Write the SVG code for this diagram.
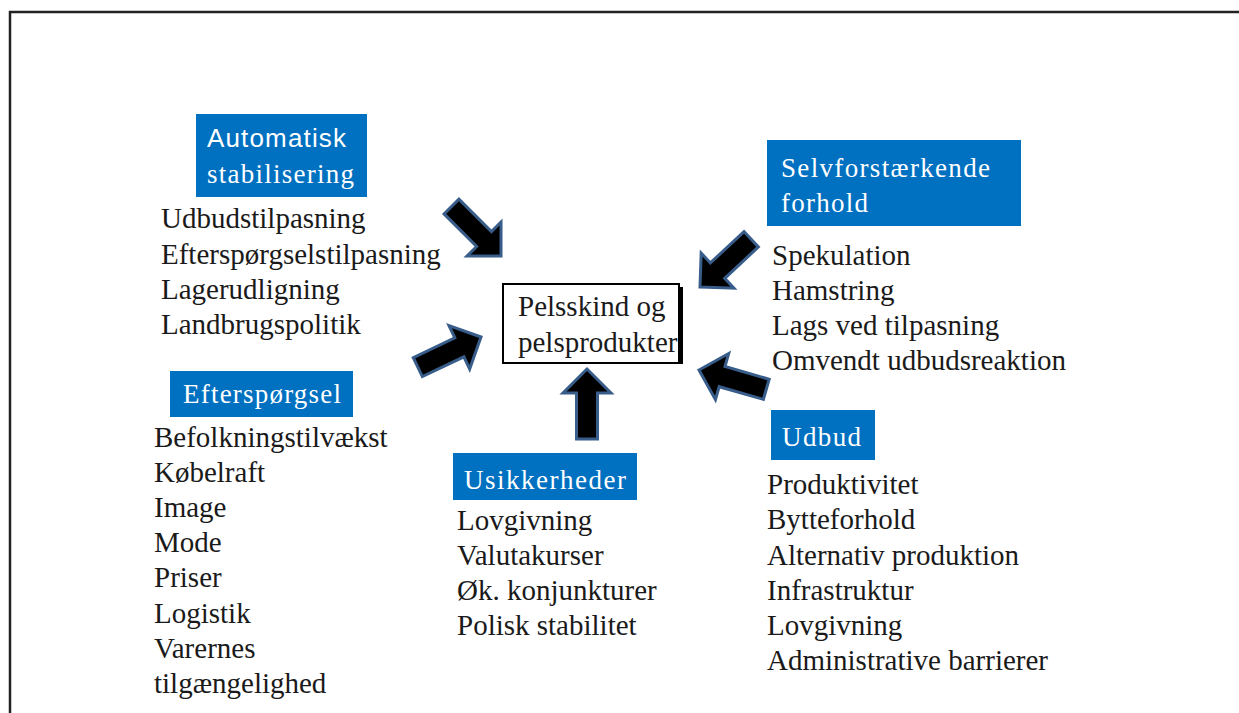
<svg xmlns="http://www.w3.org/2000/svg" width="1239" height="713" viewBox="0 0 1239 713">
  <style>
    .frame { fill: none; stroke: #222; stroke-width: 2.5; }
    .hdr { fill: #0070C0; }
    .htxt { font-family: "Liberation Serif", "Times New Roman", serif; font-size: 27px; fill: #fff; }
    .hsans { font-family: "Liberation Sans", Arial, sans-serif; font-size: 26px; fill: #fff; }
    .body { font-family: "Liberation Serif", "Times New Roman", serif; font-size: 29px; fill: #1a1a1a; }
    .arrow { fill: #000; stroke: #385D8A; stroke-width: 3; stroke-linejoin: miter; }
  </style>
  <defs>
    <polygon id="arr" class="arrow" points="0,0 -24,-24 -24,-10.5 -70,-10.5 -70,10.5 -24,10.5 -24,24"/>
  </defs>
  <rect width="1239" height="713" fill="#fff"/>
  <path class="frame" d="M10,713 V12 H1239"/>

  <g id="connectors">
    <use href="#arr" transform="translate(501,256) rotate(45)"/>
    <use href="#arr" transform="translate(481,337) rotate(-25.5)"/>
    <use href="#arr" transform="translate(587,369) rotate(-90)"/>
    <use href="#arr" transform="translate(700,287) rotate(137)"/>
    <use href="#arr" transform="translate(699,370) rotate(196)"/>
  </g>

  <g id="center">
    <line x1="681.5" y1="287" x2="681.5" y2="364" stroke="#000" stroke-width="3"/>
    <rect x="503" y="284" width="176" height="79" fill="#fff" stroke="#000" stroke-width="2"/>
    <text class="body" x="518" y="316">Pelsskind og</text>
    <text class="body" x="518" y="352">pelsprodukter</text>
  </g>

  <g id="automatisk">
    <rect class="hdr" x="196" y="114" width="171" height="83"/>
    <text class="hsans" x="207" y="147" textLength="139" lengthAdjust="spacing">Automatisk</text>
    <text class="htxt" x="207" y="183" textLength="147" lengthAdjust="spacing">stabilisering</text>
    <text class="body" x="161" y="228">Udbudstilpasning</text>
    <text class="body" x="161" y="264">Efterspørgselstilpasning</text>
    <text class="body" x="161" y="299">Lagerudligning</text>
    <text class="body" x="161" y="334">Landbrugspolitik</text>
  </g>

  <g id="selvforstaerkende">
    <rect class="hdr" x="767" y="140" width="254" height="86"/>
    <text class="htxt" x="781" y="177" textLength="209" lengthAdjust="spacing">Selvforstærkende</text>
    <text class="htxt" x="781" y="212" textLength="87" lengthAdjust="spacing">forhold</text>
    <text class="body" x="772" y="265">Spekulation</text>
    <text class="body" x="772" y="300">Hamstring</text>
    <text class="body" x="772" y="335">Lags ved tilpasning</text>
    <text class="body" x="772" y="370">Omvendt udbudsreaktion</text>
  </g>

  <g id="efterspoergsel">
    <rect class="hdr" x="170" y="371" width="183" height="46"/>
    <text class="htxt" x="183" y="403" textLength="158" lengthAdjust="spacing">Efterspørgsel</text>
    <text class="body" x="154" y="447">Befolkningstilvækst</text>
    <text class="body" x="154" y="482">Købelraft</text>
    <text class="body" x="154" y="517">Image</text>
    <text class="body" x="154" y="552">Mode</text>
    <text class="body" x="154" y="587">Priser</text>
    <text class="body" x="154" y="623">Logistik</text>
    <text class="body" x="154" y="658">Varernes</text>
    <text class="body" x="154" y="693">tilgængelighed</text>
  </g>

  <g id="usikkerheder">
    <rect class="hdr" x="453" y="453" width="184" height="47"/>
    <text class="htxt" x="464" y="489" textLength="162" lengthAdjust="spacing">Usikkerheder</text>
    <text class="body" x="457" y="530">Lovgivning</text>
    <text class="body" x="457" y="565">Valutakurser</text>
    <text class="body" x="457" y="600">Øk. konjunkturer</text>
    <text class="body" x="457" y="635">Polisk stabilitet</text>
  </g>

  <g id="udbud">
    <rect class="hdr" x="771" y="410" width="104" height="50"/>
    <text class="htxt" x="782" y="446" textLength="79" lengthAdjust="spacing">Udbud</text>
    <text class="body" x="767" y="494">Produktivitet</text>
    <text class="body" x="767" y="529">Bytteforhold</text>
    <text class="body" x="767" y="565">Alternativ produktion</text>
    <text class="body" x="767" y="600">Infrastruktur</text>
    <text class="body" x="767" y="635">Lovgivning</text>
    <text class="body" x="767" y="670">Administrative barrierer</text>
  </g>
</svg>
